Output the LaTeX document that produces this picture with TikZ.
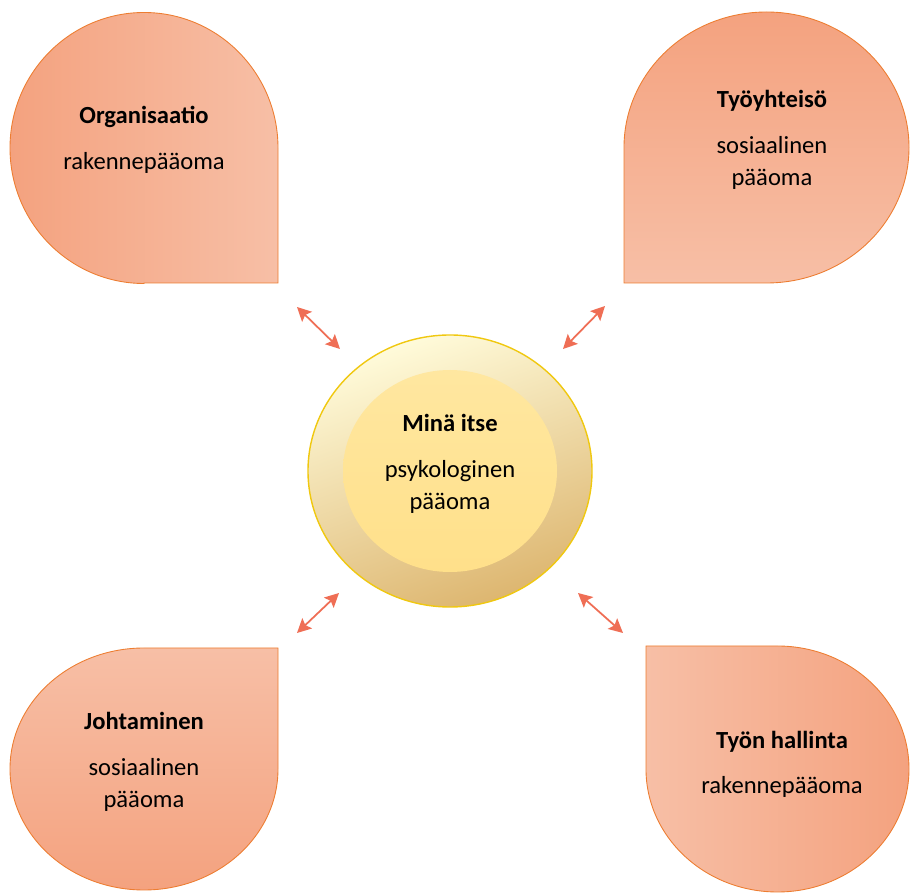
\documentclass[tikz,border=0pt]{standalone}
\usepackage{fontspec}
\setmainfont{Carlito}
\usetikzlibrary{arrows.meta}
\definecolor{petaldark}{HTML}{F4A27F}
\definecolor{petallight}{HTML}{F7BFA6}
\definecolor{petaledge}{HTML}{ED7D31}
\definecolor{linkred}{HTML}{EF6E55}
\definecolor{sunlight}{HTML}{FFFBDA}
\definecolor{sunmid}{HTML}{F7D68A}
\definecolor{sundark}{HTML}{DDB670}
\definecolor{sunedge}{HTML}{F0C810}
\definecolor{coretop}{HTML}{FFE7A0}
\definecolor{corebottom}{HTML}{FFE08A}
\tikzset{
  petal/.style={draw=petaledge, line width=0.5pt},
  txt/.style={align=center, font=\fontsize{14}{18}\selectfont},
  link/.style={linkred, line width=1pt, {Stealth[length=8pt,width=8pt,inset=1.5pt]}-{Stealth[length=8pt,width=8pt,inset=1.5pt]}}
}
\begin{document}
\begin{tikzpicture}
\useasboundingbox (0,0) rectangle (18.2,17.86);
% four petals, sharp corner toward the middle
\draw[petal, left color=petaldark, right color=petallight] (2.88,12.2) -- (5.56,12.2) -- (5.56,14.9) arc[start angle=0, end angle=270, x radius=2.68, y radius=2.71] -- cycle;
\draw[petal, top color=petaldark, bottom color=petallight] (12.48,14.9) -- (12.48,12.2) -- (15.33,12.2) arc[start angle=-90, end angle=180, x radius=2.85, y radius=2.71] -- cycle;
\draw[petal, top color=petallight, bottom color=petaldark] (2.88,4.9) -- (5.56,4.9) -- (5.56,2.48) arc[start angle=0, end angle=-270, x radius=2.68, y radius=2.42] -- cycle;
\draw[petal, left color=petallight, right color=petaldark] (12.92,2.48) -- (12.92,4.94) -- (15.55,4.94) arc[start angle=90, end angle=-180, x radius=2.63, y radius=2.46] -- cycle;
% middle
\draw[sunedge, line width=0.8pt, top color=sunlight, middle color=sunmid, bottom color=sundark, shading angle=20] (9.0,8.44) ellipse [x radius=2.84, y radius=2.72];
\shade[top color=coretop, bottom color=corebottom] (9.0,8.44) ellipse [x radius=2.14, y radius=2.02];
\node[txt] (org)  at (2.88,15.06) {\textbf{Organisaatio}\\[8pt]rakennepääoma};
\node[txt] (team) at (15.44,15.06) {\textbf{Työyhteisö}\\[8pt]sosiaalinen\\pääoma};
\node[txt] (self) at (9.0,8.58) {\textbf{Minä itse}\\[8pt]psykologinen\\pääoma};
\node[txt] (lead) at (2.88,2.62) {\textbf{Johtaminen}\\[8pt]sosiaalinen\\pääoma};
\node[txt] (work) at (15.64,2.57) {\textbf{Työn hallinta}\\[8pt]rakennepääoma};
% arrows
\coordinate (tlout) at (5.94,11.72);
\coordinate (tlin)  at (6.8,10.88);
\coordinate (trout) at (12.1,11.74);
\coordinate (trin)  at (11.26,10.88);
\coordinate (blout) at (5.94,5.2);
\coordinate (blin)  at (6.78,6.0);
\coordinate (brout) at (12.46,5.2);
\coordinate (brin)  at (11.56,6.0);
\draw[link] (tlout) -- (tlin);
\draw[link] (trout) -- (trin);
\draw[link] (blout) -- (blin);
\draw[link] (brout) -- (brin);
\end{tikzpicture}
\end{document}
